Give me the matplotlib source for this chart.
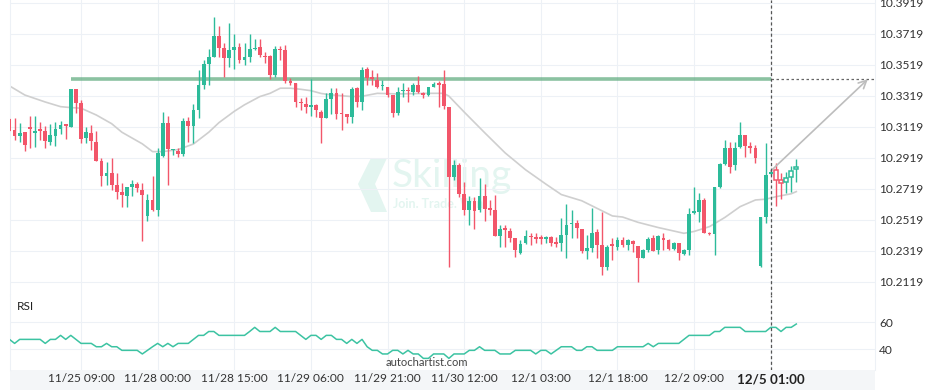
import numpy as np
import matplotlib
matplotlib.use('Agg')
import matplotlib.pyplot as plt
from matplotlib.patches import Rectangle, Polygon

plt.rcParams['font.family'] = ['Lato', 'DejaVu Sans']

# ---------------- data ----------------
opens = [10.3170, 10.3099, 10.3063, 10.3086, 10.3114, 10.3082, 10.3101, 10.3093, 10.3024, 10.3063,
         10.3104, 10.3132, 10.3121, 10.3364, 10.3274, 10.3050, 10.3080, 10.3022, 10.2899, 10.2805,
         10.2822, 10.2744, 10.2699, 10.2675, 10.2733, 10.2751, 10.2712, 10.2546, 10.2648, 10.2583,
         10.2934, 10.3142, 10.2970, 10.2966, 10.2945, 10.3157, 10.3127, 10.3228, 10.3390, 10.3525,
         10.3572, 10.3706, 10.3626, 10.3562, 10.3615, 10.3633, 10.3551, 10.3568, 10.3622, 10.3633,
         10.3577, 10.3577, 10.3454, 10.3620, 10.3615, 10.3409, 10.3404, 10.3280, 10.3267, 10.3250,
         10.3261, 10.3217, 10.3179, 10.3297, 10.3340, 10.3207, 10.3203, 10.3185, 10.3368, 10.3282,
         10.3493, 10.3435, 10.3422, 10.3381, 10.3379, 10.3325, 10.3211, 10.3351, 10.3353, 10.3346,
         10.3390, 10.3336, 10.3323, 10.3379, 10.3396, 10.3396, 10.3246, 10.2794, 10.2874, 10.2686,
         10.2583, 10.2643, 10.2583, 10.2673, 10.2590, 10.2583, 10.2417, 10.2461, 10.2448, 10.2404,
         10.2308, 10.2368, 10.2414, 10.2403, 10.2403, 10.2394, 10.2407, 10.2370, 10.2368, 10.2422,
         10.2493, 10.2497, 10.2461, 10.2321, 10.2336, 10.2443, 10.2357, 10.2214, 10.2357, 10.2346,
         10.2390, 10.2357, 10.2383, 10.2351, 10.2272, 10.2325, 10.2401, 10.2325, 10.2396, 10.2390,
         10.2330, 10.2368, 10.2299, 10.2325, 10.2566, 10.2572, 10.2648, 10.2437, 10.2428, 10.2730,
         10.2878, 10.2981, 10.2874, 10.2988, 10.3067, 10.2998, 10.2981, 10.2222, 10.2540, 10.2815]

highs = [10.3174, 10.3174, 10.3142, 10.3086, 10.3188, 10.3188, 10.3151, 10.3127, 10.3136, 10.3149,
         10.3159, 10.3134, 10.3364, 10.3364, 10.3293, 10.3117, 10.3130, 10.3096, 10.2919, 10.2893,
         10.2917, 10.2820, 10.2759, 10.2733, 10.2777, 10.2764, 10.2755, 10.2684, 10.2805, 10.2981,
         10.3217, 10.3188, 10.2980, 10.2985, 10.3175, 10.3185, 10.3265, 10.3486, 10.3551, 10.3620,
         10.3830, 10.3772, 10.3659, 10.3788, 10.3717, 10.3659, 10.3659, 10.3717, 10.3684, 10.3684,
         10.3604, 10.3583, 10.3641, 10.3641, 10.3648, 10.3433, 10.3404, 10.3304, 10.3314, 10.3426,
         10.3267, 10.3228, 10.3336, 10.3368, 10.3368, 10.3336, 10.3203, 10.3379, 10.3379, 10.3508,
         10.3508, 10.3486, 10.3465, 10.3422, 10.3379, 10.3325, 10.3379, 10.3401, 10.3379, 10.3401,
         10.3450, 10.3346, 10.3379, 10.3411, 10.3417, 10.3486, 10.3248, 10.2906, 10.2888, 10.2766,
         10.2673, 10.2669, 10.2788, 10.2751, 10.2648, 10.2680, 10.2486, 10.2486, 10.2465, 10.2404,
         10.2390, 10.2454, 10.2433, 10.2437, 10.2422, 10.2415, 10.2415, 10.2411, 10.2530, 10.2622,
         10.2583, 10.2519, 10.2461, 10.2422, 10.2594, 10.2459, 10.2572, 10.2357, 10.2403, 10.2411,
         10.2411, 10.2394, 10.2390, 10.2351, 10.2330, 10.2411, 10.2422, 10.2420, 10.2433, 10.2396,
         10.2379, 10.2370, 10.2330, 10.2594, 10.2733, 10.2691, 10.2659, 10.2441, 10.2733, 10.2885,
         10.3035, 10.3024, 10.3024, 10.3153, 10.3067, 10.3024, 10.3003, 10.2540, 10.3013, 10.2841]

lows = [10.3090, 10.3038, 10.3020, 10.2961, 10.2985, 10.2992, 10.3037, 10.2985, 10.3003, 10.2998,
        10.3074, 10.3041, 10.3117, 10.3207, 10.3017, 10.3013, 10.2970, 10.2899, 10.2738, 10.2742,
        10.2712, 10.2654, 10.2604, 10.2601, 10.2675, 10.2701, 10.2385, 10.2512, 10.2580, 10.2546,
        10.2927, 10.2744, 10.2938, 10.2927, 10.2934, 10.3024, 10.3013, 10.3175, 10.3364, 10.3390,
        10.3570, 10.3572, 10.3443, 10.3508, 10.3491, 10.3530, 10.3519, 10.3540, 10.3615, 10.3572,
        10.3530, 10.3426, 10.3443, 10.3551, 10.3401, 10.3390, 10.3250, 10.3228, 10.3207, 10.3190,
        10.3185, 10.3013, 10.3175, 10.3203, 10.3168, 10.3099, 10.3142, 10.3146, 10.3250, 10.3228,
        10.3390, 10.3390, 10.3368, 10.3357, 10.3314, 10.3181, 10.3196, 10.3314, 10.3282, 10.3325,
        10.3336, 10.3304, 10.3319, 10.3375, 10.3250, 10.3233, 10.2214, 10.2777, 10.2669, 10.2551,
        10.2486, 10.2459, 10.2572, 10.2514, 10.2551, 10.2415, 10.2343, 10.2346, 10.2379, 10.2282,
        10.2299, 10.2364, 10.2357, 10.2368, 10.2364, 10.2370, 10.2351, 10.2346, 10.2321, 10.2272,
        10.2401, 10.2401, 10.2304, 10.2265, 10.2314, 10.2272, 10.2164, 10.2196, 10.2261, 10.2325,
        10.2346, 10.2325, 10.2314, 10.2121, 10.2272, 10.2314, 10.2321, 10.2299, 10.2325, 10.2325,
        10.2325, 10.2261, 10.2293, 10.2293, 10.2557, 10.2508, 10.2433, 10.2424, 10.2293, 10.2723,
        10.2874, 10.2820, 10.2841, 10.2981, 10.2927, 10.2949, 10.2885, 10.2217, 10.2497, 10.2809]

closes = [10.3095, 10.3063, 10.3080, 10.3005, 10.3108, 10.3091, 10.3095, 10.3030, 10.3065, 10.3106,
          10.3130, 10.3127, 10.3364, 10.3275, 10.3043, 10.3086, 10.3030, 10.2901, 10.2805, 10.2822,
          10.2744, 10.2699, 10.2682, 10.2733, 10.2751, 10.2727, 10.2682, 10.2648, 10.2583, 10.2949,
          10.3142, 10.2975, 10.2977, 10.2945, 10.3157, 10.3127, 10.3228, 10.3390, 10.3525, 10.3572,
          10.3706, 10.3626, 10.3562, 10.3615, 10.3633, 10.3551, 10.3568, 10.3622, 10.3630, 10.3583,
          10.3568, 10.3454, 10.3620, 10.3615, 10.3417, 10.3404, 10.3282, 10.3272, 10.3250, 10.3259,
          10.3228, 10.3179, 10.3297, 10.3340, 10.3203, 10.3201, 10.3185, 10.3362, 10.3282, 10.3486,
          10.3433, 10.3430, 10.3379, 10.3383, 10.3325, 10.3211, 10.3346, 10.3355, 10.3349, 10.3390,
          10.3346, 10.3323, 10.3375, 10.3396, 10.3392, 10.3256, 10.2794, 10.2874, 10.2686, 10.2583,
          10.2643, 10.2579, 10.2673, 10.2588, 10.2585, 10.2417, 10.2459, 10.2456, 10.2404, 10.2325,
          10.2364, 10.2415, 10.2409, 10.2398, 10.2398, 10.2407, 10.2368, 10.2366, 10.2422, 10.2486,
          10.2497, 10.2465, 10.2321, 10.2336, 10.2437, 10.2357, 10.2214, 10.2346, 10.2353, 10.2390,
          10.2357, 10.2390, 10.2362, 10.2272, 10.2325, 10.2394, 10.2321, 10.2415, 10.2392, 10.2330,
          10.2368, 10.2308, 10.2325, 10.2557, 10.2570, 10.2648, 10.2437, 10.2428, 10.2730, 10.2878,
          10.2981, 10.2863, 10.2981, 10.3067, 10.2998, 10.2981, 10.2917, 10.2540, 10.2809, 10.2826]

# projected (hollow) candles after the current bar
future_open = [10.2841, 10.2777, 10.2762, 10.2798, 10.2846]
future_high = [10.2885, 10.2820, 10.2830, 10.2867, 10.2910]
future_low = [10.2611, 10.2652, 10.2695, 10.2701, 10.2766]
future_close = [10.2777, 10.2755, 10.2788, 10.2837, 10.2859]

# moving average (read at selected bars)
ma_idx = [0, 3, 7, 10, 12, 14, 17, 20, 22, 26, 28, 30, 33, 36, 39, 41, 44, 46, 49, 51,
          53, 55, 57, 59, 61, 63, 67, 69, 72, 76, 82, 85, 86, 89, 93, 97, 101, 105, 108, 112,
          115, 118, 120, 123, 127, 132, 134, 137, 140, 143, 146, 148, 150, 153, 154]
ma_val = [10.3384, 10.3325, 10.3280, 10.3250, 10.3244, 10.3240, 10.3196, 10.3140, 10.3085, 10.3010,
          10.2960, 10.2960, 10.2973, 10.3009, 10.3085, 10.3147, 10.3220, 10.3262, 10.3315, 10.3336,
          10.3369, 10.3369, 10.3362, 10.3353, 10.3335, 10.3326, 10.3315, 10.3317, 10.3336, 10.3332,
          10.3336, 10.3336, 10.3318, 10.3215, 10.3082, 10.2952, 10.2843, 10.2750, 10.2683, 10.2643,
          10.2594, 10.2545, 10.2538, 10.2504, 10.2470, 10.2433, 10.2445, 10.2476, 10.2535, 10.2605,
          10.2648, 10.2653, 10.2669, 10.2688, 10.2702]

rsi = [47.2, 44.2, 47.2, 47.2, 47.2, 47.2, 47.2, 44.2, 47.2, 47.2,
       50.2, 47.2, 50.2, 47.2, 44.2, 44.2, 44.2, 41.7, 41.7, 44.2,
       41.7, 41.7, 39.0, 39.0, 39.0, 39.0, 36.3, 39.0, 41.7, 44.2,
       41.7, 44.2, 41.7, 44.2, 44.2, 44.2, 47.2, 50.2, 50.2, 53.1,
       53.1, 50.2, 50.2, 50.2, 50.2, 50.2, 50.2, 53.1, 56.2, 53.1,
       53.1, 53.1, 56.2, 53.1, 53.1, 53.1, 53.1, 50.2, 47.2, 50.2,
       50.2, 47.2, 50.2, 50.2, 47.2, 47.2, 44.2, 47.2, 44.2, 47.2,
       41.7, 39.0, 39.0, 36.3, 36.3, 39.0, 39.0, 36.3, 39.0, 36.3,
       36.3, 33.0, 33.0, 36.3, 36.3, 36.3, 33.0, 36.3, 36.3, 36.3,
       39.0,
       39.0, 41.7, 39.0, 39.0, 39.0, 36.3, 36.3, 36.3, 39.0, 39.0,
       39.0, 39.0, 36.3, 39.0, 39.0, 36.3, 39.0, 41.7, 41.7, 41.7,
       39.0, 39.0, 41.7, 41.7, 39.0, 39.0, 39.0, 39.0, 41.7, 41.7,
       41.7, 41.7, 41.7, 41.7, 44.2, 41.7, 44.2, 44.2, 44.2, 44.2,
       44.2, 47.2, 50.2, 50.2, 50.2, 50.2, 50.2, 53.1, 53.1, 56.2,
       56.2, 56.2, 56.2, 53.1, 53.1, 53.1, 53.1, 53.1, 56.2, 56.2,
       53.1, 56.2, 56.2, 58.7]

resistance_level = 10.3427
resistance_start = 12          # bar where the level begins
current_bar = 149              # "now" bar (dashed line)
arrow_from = (149, 10.2835)
arrow_to = (168, 10.3427)

price_ticks = [10.3919, 10.3719, 10.3519, 10.3319, 10.3119, 10.2919, 10.2719, 10.2519, 10.2319, 10.2119]
rsi_ticks = [40, 60]
time_tick_bars = [14, 29, 44, 59, 74, 89, 104, 119, 134, 149]
time_tick_labels = ['11/25 09:00', '11/28 00:00', '11/28 15:00', '11/29 06:00', '11/29 21:00',
                    '11/30 12:00', '12/1 03:00', '12/1 18:00', '12/2 09:00', '12/5 01:00']

# ---------------- style ----------------
GREEN = '#2dbb9a'
RED = '#f2566a'
GRID = '#edf1f6'
TXT = '#333333'

W, H = 936, 390
fig = plt.figure(figsize=(W / 100, H / 100), dpi=100)
fig.patch.set_facecolor('white')

def frac(x0, y0, x1, y1):
    return [x0 / W, 1 - y1 / H, (x1 - x0) / W, (y1 - y0) / H]

ax = fig.add_axes(frac(10, 0, 875, 295))
axr = fig.add_axes(frac(10, 295, 875, 370), sharex=ax)

# label band
fig.patches.append(Rectangle((10 / W, 0), 865 / W, 20 / H, transform=fig.transFigure,
                             facecolor='#f4f6f8', edgecolor='none', zorder=-5))

XL = (0.1, 169.4)

# ---- watermark ----
def afr(px, py):
    return ((px - 10) / 865, 1 - py / 295)

WM = '#e3f5f0'
chev = [afr(371, 158), afr(387, 158), afr(375, 184), afr(387, 212), afr(371, 212), afr(358, 184)]
ax.add_patch(Polygon(chev, closed=True, transform=ax.transAxes, facecolor=WM,
                     edgecolor='none', zorder=0))
ax.text(*afr(392, 176), 'Skilling', transform=ax.transAxes, fontsize=28, color=WM,
        ha='left', va='center', zorder=0)
ax.text(*afr(393, 204), 'Join. Trade. Win.', transform=ax.transAxes, fontsize=9,
        fontweight='bold', color=WM, ha='left', va='center', zorder=0)

# ---- candles ----
o = np.array(opens); c = np.array(closes); h = np.array(highs); l = np.array(lows)
x = np.arange(len(o))
cols = np.where(c >= o, GREEN, RED)
ax.vlines(x, l, h, colors=cols, linewidth=1.0, zorder=3)
ax.bar(x, np.maximum(np.abs(c - o), 0.0009), bottom=np.minimum(o, c), width=0.74,
       color=cols, edgecolor='none', zorder=4)

fo = np.array(future_open); fc = np.array(future_close)
fh = np.array(future_high); fl = np.array(future_low)
xf = np.arange(len(o), len(o) + len(fo))
fcols = np.where(fc >= fo, GREEN, RED)
ax.vlines(xf, fl, fh, colors=fcols, linewidth=1.0, zorder=3)
ax.bar(xf, np.maximum(np.abs(fc - fo), 0.0009), bottom=np.minimum(fo, fc), width=0.74,
       facecolor='white', edgecolor=fcols, linewidth=1.1, zorder=4)

# moving average
ax.plot(ma_idx, ma_val, color='#cfcfcf', lw=1.2, zorder=2)

# resistance level
ax.plot([resistance_start, current_bar], [resistance_level, resistance_level],
        color='#5aa87a', lw=2.6, alpha=0.7, zorder=2.5, solid_capstyle='butt')
ax.plot([current_bar, XL[1]], [resistance_level, resistance_level],
        color='#666666', lw=0.9, ls=(0, (2, 2)), zorder=2.5)

# forecast arrow
ax.annotate('', xy=arrow_to, xytext=arrow_from,
            arrowprops=dict(arrowstyle='->', color='#bdbdbd', lw=1.2,
                            shrinkA=0, shrinkB=0, mutation_scale=14), zorder=5)

for a in (ax, axr):
    a.axvline(current_bar, color='#555555', lw=0.9, ls=(0, (2.5, 2)), zorder=6)

# ---- main axes formatting ----
ax.set_xlim(*XL)
ax.set_ylim(10.2035, 10.3938)
ax.set_yticks(price_ticks)
ax.set_yticklabels(['%.4f' % v for v in price_ticks])
ax.yaxis.tick_right()
ax.tick_params(axis='y', length=0, pad=3, labelsize=8.6, labelcolor=TXT)
ax.set_xticks(time_tick_bars)
ax.tick_params(axis='x', length=0, labelbottom=False)
ax.grid(True, color=GRID, lw=0.8, zorder=0)
ax.set_axisbelow(True)
for s in ('top', 'bottom'):
    ax.spines[s].set_visible(False)
for s in ('left', 'right'):
    ax.spines[s].set_color(GRID)

# ---- RSI axes ----
axr.plot(np.arange(len(rsi)), rsi, color='#3cc3a2', lw=1.1, zorder=3)
axr.set_ylim(24.3, 80.4)
axr.set_yticks(rsi_ticks)
axr.set_yticklabels([str(v) for v in rsi_ticks])
axr.yaxis.tick_right()
axr.tick_params(axis='y', length=0, pad=3, labelsize=8.6, labelcolor=TXT)
axr.set_xticks(time_tick_bars)
axr.set_xticklabels(time_tick_labels)
axr.tick_params(axis='x', length=0, pad=2.5, labelsize=8.6, labelcolor=TXT)
lab = axr.get_xticklabels()[-1]
lab.set_fontweight('bold'); lab.set_fontsize(9.6); lab.set_color('#222222')
axr.grid(True, color=GRID, lw=0.8, zorder=0)
axr.set_axisbelow(True)
for s in ('top', 'bottom'):
    axr.spines[s].set_visible(False)
for s in ('left', 'right'):
    axr.spines[s].set_color(GRID)
axr.set_xlim(*XL)

fig.text(17 / W, 1 - 307 / H, 'RSI', fontsize=8.6, color='#222222', va='center', ha='left')
fig.text(427 / W, 1 - 363 / H, 'autochartist.com', fontsize=8, color='#444444',
         va='center', ha='center')

fig.savefig('out.png', dpi=100)
